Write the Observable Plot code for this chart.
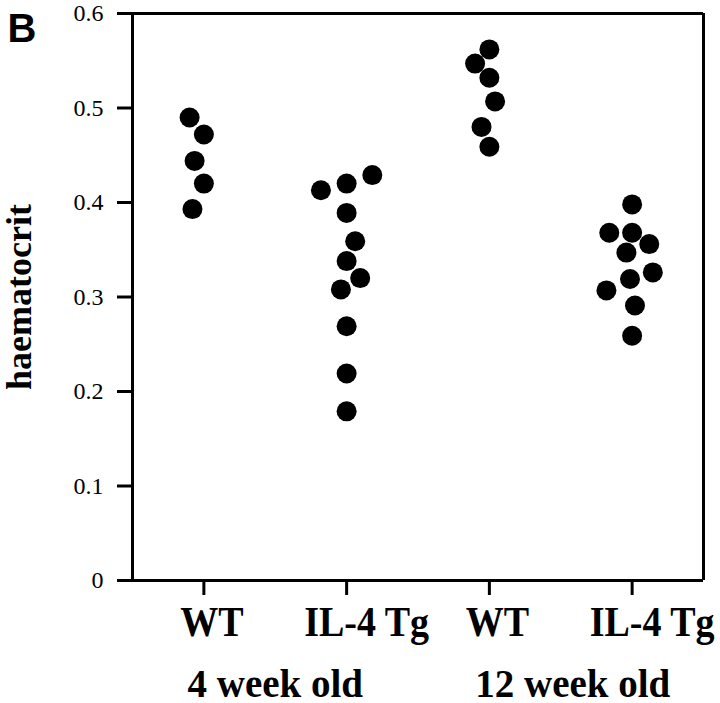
<!DOCTYPE html>
<html><head><meta charset="utf-8">
<script src="https://cdn.jsdelivr.net/npm/d3@7"></script>
<script src="https://cdn.jsdelivr.net/npm/@observablehq/plot@0.6"></script>
<style>body{margin:0;background:#fff}</style>
</head><body><div id="chart"></div>
<script>
// ---- data ----
const groupLabels = ["WT", "IL-4 Tg", "WT", "IL-4 Tg"];
const ageLabels = ["4 week old", "12 week old"];
const yTicks = [0, 0.1, 0.2, 0.3, 0.4, 0.5, 0.6];
const yTickLabels = ["0", "0.1", "0.2", "0.3", "0.4", "0.5", "0.6"];
const yLabel = "haematocrit";
const panelLetter = "B";

// haematocrit values per group, with horizontal scatter (in group-spacing units)
const wt4 = [0.490, 0.472, 0.444, 0.420, 0.393];
const wt4Jitter = [-0.10, 0.00, -0.065, 0.00, -0.08];
const tg4 = [0.413, 0.420, 0.429, 0.389, 0.359, 0.338, 0.320, 0.308, 0.269, 0.219, 0.179];
const tg4Jitter = [-0.18, 0.00, 0.18, 0.00, 0.06, 0.00, 0.095, -0.04, 0.00, 0.00, 0.00];
const wt12 = [0.562, 0.547, 0.532, 0.507, 0.480, 0.459];
const wt12Jitter = [0.00, -0.10, 0.00, 0.04, -0.055, 0.00];
const tg12 = [0.398, 0.368, 0.368, 0.356, 0.347, 0.326, 0.319, 0.307, 0.291, 0.259];
const tg12Jitter = [0.00, -0.16, 0.00, 0.12, -0.04, 0.145, -0.015, -0.18, 0.02, 0.00];

const seriesValues = [wt4, tg4, wt12, tg12];
const seriesJitter = [wt4Jitter, tg4Jitter, wt12Jitter, tg12Jitter];

const points = seriesValues.flatMap((vals, g) =>
  vals.map((v, k) => ({g, v, j: seriesJitter[g][k]})));
const xLabelData = groupLabels.map((t, i) => ({i, t}));
const ageData = ageLabels.map((t, k) => ({x: 2 * k + 0.5, t}));

const serif = "'Liberation Serif', 'Times New Roman', serif";

const chart = Plot.plot({
  width: 720,
  height: 703,
  marginLeft: 132,
  marginRight: 17,
  marginTop: 13,
  marginBottom: 123,
  style: {background: "white", color: "black", fontFamily: serif},
  x: {domain: [-0.5, 3.5], axis: null},
  y: {domain: [0, 0.6], axis: null},
  marks: [
    // frame
    Plot.ruleY([0, 0.6], {stroke: "black", strokeWidth: 3}),
    Plot.ruleX([-0.5, 3.5], {stroke: "black", strokeWidth: 3}),
    // y axis
    Plot.axisY({
      ticks: yTicks,
      tickFormat: (d, i) => yTickLabels[i],
      tickSize: 15,
      tickPadding: 14,
      strokeWidth: 3,
      fontSize: 24,
      fontFamily: serif,
      label: null
    }),
    // x axis ticks
    Plot.axisX({
      ticks: [0, 1, 2, 3],
      tickFormat: () => "",
      tickSize: 15,
      strokeWidth: 3,
      label: null
    }),
    // x category labels
    Plot.text(xLabelData.filter(d => d.t === "WT"), {
      x: "i", text: "t", frameAnchor: "bottom", lineAnchor: "bottom", textAnchor: "middle",
      dy: 55, dx: 8, fontSize: 38, fontWeight: "bold", fontFamily: serif, className: "stretch"
    }),
    Plot.text(xLabelData.filter(d => d.t !== "WT"), {
      x: "i", text: "t", frameAnchor: "bottom", lineAnchor: "bottom", textAnchor: "middle",
      dy: 55, dx: 20, fontSize: 38, fontWeight: "bold", fontFamily: serif, className: "stretch"
    }),
    // age group labels
    Plot.text(ageData.slice(0, 1), {
      x: "x", text: "t", frameAnchor: "bottom", lineAnchor: "bottom", textAnchor: "middle",
      dy: 116, dx: 0, fontSize: 39, fontWeight: "bold", fontFamily: serif
    }),
    Plot.text(ageData.slice(1), {
      x: "x", text: "t", frameAnchor: "bottom", lineAnchor: "bottom", textAnchor: "middle",
      dy: 116, dx: 12, fontSize: 39, fontWeight: "bold", fontFamily: serif
    }),
    // y label
    Plot.text([yLabel], {
      frameAnchor: "left", textAnchor: "middle", dx: -113, rotate: -90,
      fontSize: 36, fontWeight: "bold", fontFamily: serif
    }),
    // panel letter
    Plot.text([panelLetter], {
      frameAnchor: "top-left", textAnchor: "start", dx: -125, dy: 0, lineAnchor: "top",
      fontSize: 40, fontWeight: "bold",
      fontFamily: "'Liberation Sans', Arial, sans-serif"
    }),
    // data points
    Plot.dot(points, {x: d => d.g + d.j, y: "v", r: 10, fill: "black", stroke: "none"})
  ]
});
// slight vertical stretch of the category labels, as in the reference lettering
d3.select(chart).selectAll("g.stretch text").each(function() {
  const t = this.getAttribute("transform");
  if (t) this.setAttribute("transform", t + " scale(1,1.1)");
});
document.getElementById("chart").appendChild(chart);
</script>
</body></html>
